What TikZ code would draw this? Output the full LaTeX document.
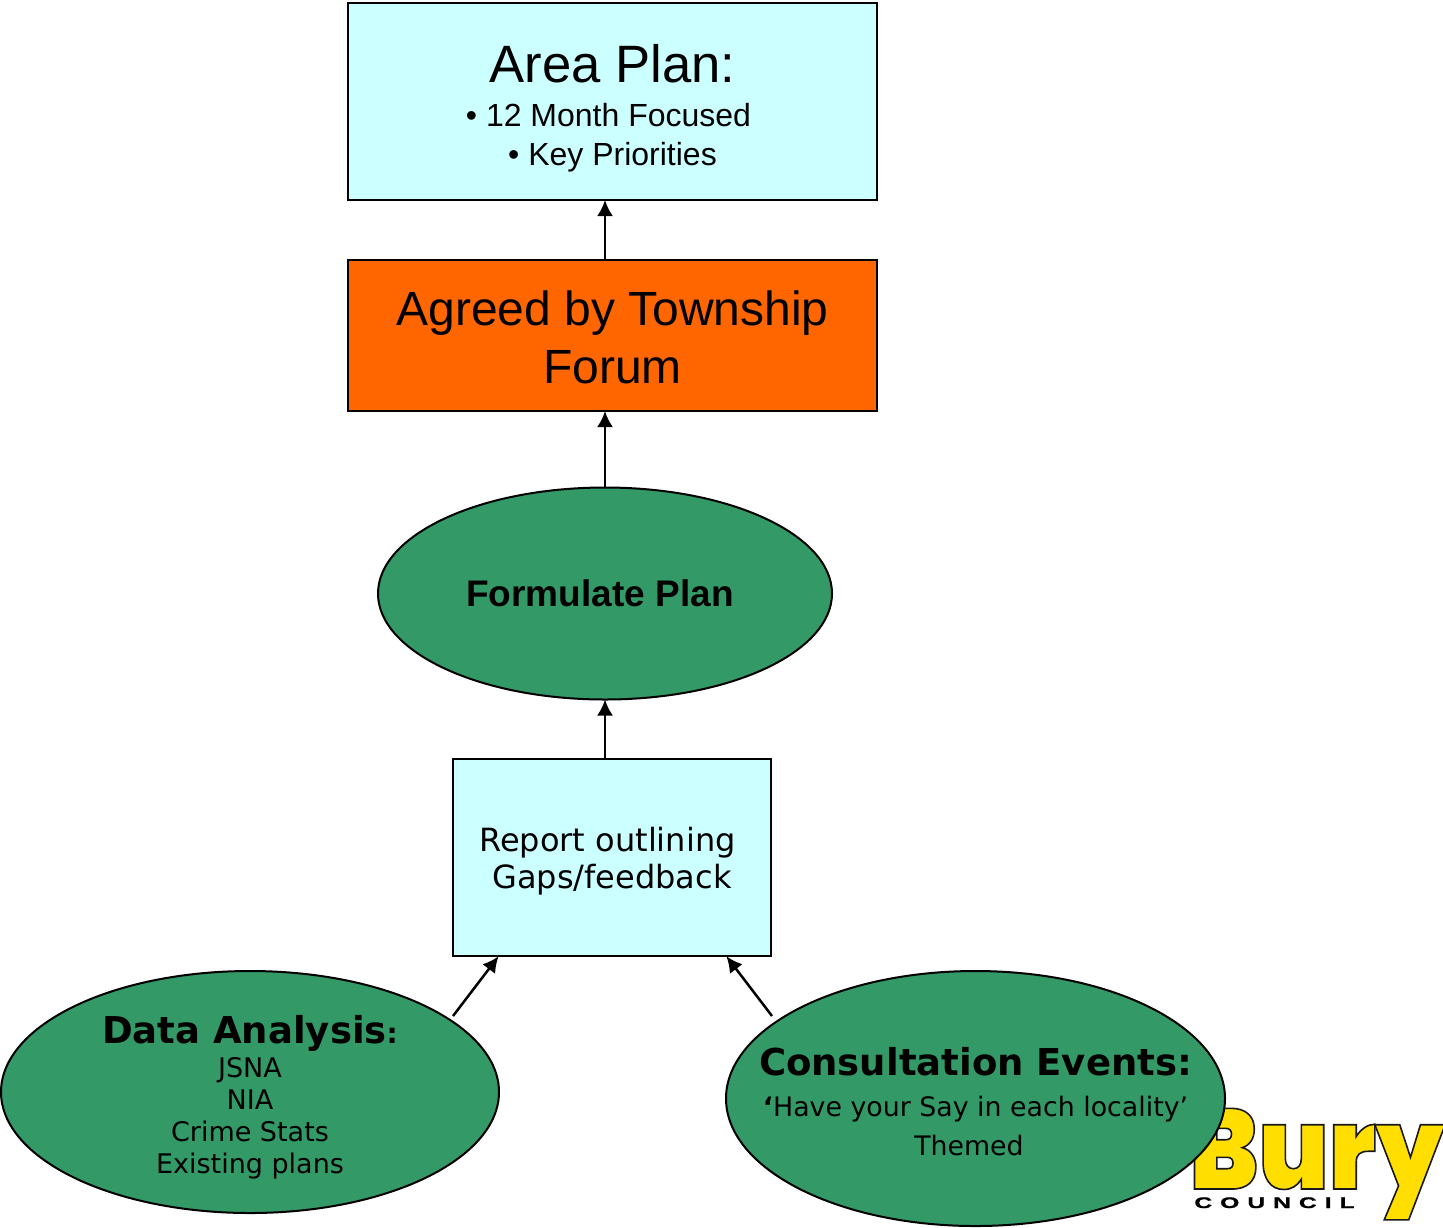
\documentclass[tikz,border=0pt]{standalone}
\usepackage{fontspec}
\usetikzlibrary{shapes.geometric,arrows.meta}
\setmainfont{Liberation Sans}
\newfontfamily\verdana{DejaVu Sans}
\newfontfamily\logofont[FakeBold=1.4,FakeStretch=0.885]{Poppins Black}
\newfontfamily\councilfont[FakeStretch=1.6,LetterSpace=52,FakeBold=1]{Liberation Sans Bold}
\definecolor{PaleCyan}{HTML}{CCFFFF}
\definecolor{PlanOrange}{HTML}{FF6600}
\definecolor{PlanGreen}{HTML}{339966}
\newcommand{\fsz}[2]{\fontsize{#1}{#2}\selectfont}
\newcommand{\toprule}[1]{\rule{0pt}{#1}}

\begin{document}
\begin{tikzpicture}[x=0.5pt,y=-0.5pt]
\tikzset{box style/.style={draw, line width=1pt, inner sep=0pt, align=center}}
\tikzset{oval style/.style={draw, ellipse, line width=1pt, fill=PlanGreen, inner sep=-50pt, align=center}}
\tikzset{up style/.style={-{Latex[length=8pt,width=8pt]}, line width=1.25pt, shorten >=-0.5pt}}
\useasboundingbox (0,0) rectangle (1443,1227);

% logo sits under the right oval
\node(Bury)[inner sep=0pt, anchor=base west] at (1189,1189)
  {\logofont\fsz{57}{60}\special{pdf:bcolor [1 0.87 0] [0.1 0.1 0.1]}Bury\special{pdf:ecolor}};
\node(Council)[inner sep=0pt, anchor=base west] at (1194,1208) {\councilfont\fsz{7.7}{9}COUNCIL};

\node(Area)[box style, fill=PaleCyan, minimum width=264.5pt, minimum height=98.5pt,
  font=\fsz{16}{19.5}] at (612.5,101.5)
  {\toprule{26pt}{\fsz{26.3}{30}Area Plan:}\\[2.5pt]
   \hspace*{-4pt}• 12 Month Focused\\
   • Key Priorities};
\node(Agreed)[box style, fill=PlanOrange, minimum width=264.5pt, minimum height=75.5pt,
  font=\fsz{24}{29}] at (612.5,335.5)
  {\toprule{19.5pt}Agreed by Township\\Forum};
\node(Formulate)[oval style, minimum width=227pt, minimum height=106pt,
  font=\fsz{18.5}{22}\bfseries] at (605,593.5)
  {\hspace*{-5pt}Formulate Plan};
\node(Report)[box style, fill=PaleCyan, minimum width=159pt, minimum height=98.5pt,
  font=\verdana\fsz{16}{18.5}] at (612,857.5)
  {\toprule{16.2pt}\hspace*{-4.5pt}Report outlining\\Gaps/feedback};
\node(Data)[oval style, minimum width=249pt, minimum height=121pt,
  font=\verdana\fsz{13.5}{16}] at (250,1092)
  {\toprule{19pt}{\fsz{18.5}{22}\bfseries Data Analysis\fsz{14}{16}:}\\[1pt]
   JSNA\\NIA\\Crime Stats\\Existing plans};
\node(Consult)[oval style, minimum width=249.5pt, minimum height=127.5pt,
  font=\verdana\fsz{13.4}{19.5}] at (975.5,1098.5)
  {\toprule{17pt}{\fsz{18.5}{22}\bfseries Consultation Events:}\\[1pt]
   {\bfseries ‘}Have your Say in each locality’\\\hspace*{-6.5pt}Themed};

\coordinate(DataEnd) at (453,1016);
\coordinate(ConsultEnd) at (772,1016);
\coordinate(ReportL) at (498,957);
\coordinate(ReportR) at (727,957);

\draw[up style] (Formulate.north |- Agreed.north) -- (Formulate.north |- Area.south);
\draw[up style] (Formulate.north) -- (Formulate.north |- Agreed.south);
\draw[up style] (Formulate.south |- Report.north) -- (Formulate.south);
\draw[up style] (DataEnd) -- (ReportL);
\draw[up style] (ConsultEnd) -- (ReportR);
\end{tikzpicture}
\end{document}
